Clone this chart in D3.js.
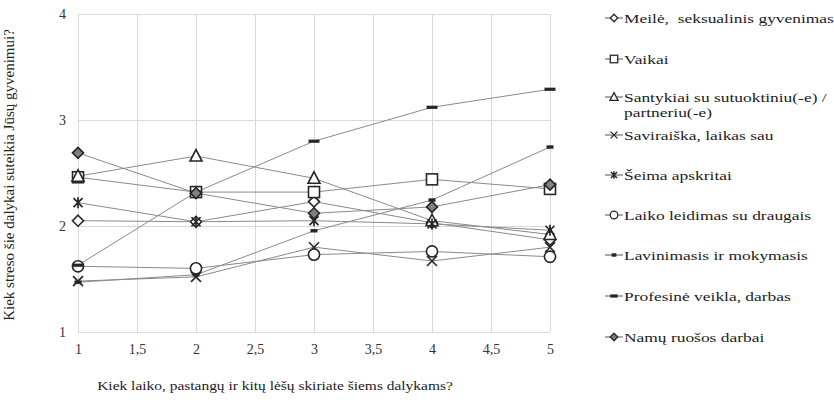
<!DOCTYPE html>
<html><head><meta charset="utf-8">
<script src="https://cdn.jsdelivr.net/npm/d3@7"></script>
<style>body{margin:0;background:#fff}svg{display:block}</style>
</head><body><svg id="c" width="834" height="400"></svg>
<script>
const xValues = [1, 2, 3, 4, 5];
const xTicks = [1, 1.5, 2, 2.5, 3, 3.5, 4, 4.5, 5];
const yTicks = [1, 2, 3, 4];
const seriesNames = [
  "Meilė,  seksualinis gyvenimas",
  "Vaikai",
  "Santykiai su sutuoktiniu(-e) /|partneriu(-e)",
  "Saviraiška, laikas sau",
  "Šeima apskritai",
  "Laiko leidimas su draugais",
  "Lavinimasis ir mokymasis",
  "Profesinė veikla, darbas",
  "Namų ruošos darbai"
];
const meile = [2.05, 2.04, 2.23, 2.03, 1.87];
const vaikai = [2.46, 2.32, 2.32, 2.44, 2.35];
const santykiai = [2.47, 2.66, 2.45, 2.05, 1.92];
const saviraiska = [1.48, 1.52, 1.80, 1.67, 1.80];
const seima = [2.22, 2.04, 2.05, 2.02, 1.96];
const laiko = [1.62, 1.60, 1.73, 1.76, 1.71];
const lavinimasis = [1.47, 1.54, 1.955, 2.245, 2.745];
const profesine = [1.63, 2.32, 2.80, 3.12, 3.29];
const namu = [2.69, 2.31, 2.12, 2.18, 2.39];
const markers = ["diamond", "square", "triangle", "x", "asterisk", "circle", "smalldash", "dash", "filldiamond"];
const allValues = [meile, vaikai, santykiai, saviraiska, seima, laiko, lavinimasis, profesine, namu];
const yTitle = "Kiek streso šie dalykai suteikia Jūsų gyvenimui?";
const xTitle = "Kiek laiko, pastangų ir kitų lėšų skiriate šiems dalykams?";

const FONT = "'Liberation Serif', 'Times New Roman', serif";
const svg = d3.select("#c");
const x = d3.scaleLinear().domain([1, 5]).range([78, 550]);
const y = d3.scaleLinear().domain([1, 4]).range([332, 14]);

// grid
svg.append("g").selectAll("line").data(xTicks).join("line")
  .attr("x1", d => x(d)).attr("x2", d => x(d)).attr("y1", y(4)).attr("y2", y(1))
  .attr("stroke", "#d9d9d9").attr("stroke-width", 1).attr("shape-rendering", "crispEdges");
svg.append("g").selectAll("line").data(yTicks).join("line")
  .attr("x1", x(1)).attr("x2", x(5)).attr("y1", d => y(d)).attr("y2", d => y(d))
  .attr("stroke", "#d9d9d9").attr("stroke-width", 1).attr("shape-rendering", "crispEdges");

// axes
const xAxis = svg.append("g").attr("transform", `translate(0,${y(1)})`)
  .call(d3.axisBottom(x).tickValues(xTicks).tickSize(0).tickPadding(12).tickFormat(d => String(d).replace(".", ",")));
xAxis.attr("font-family", FONT);
xAxis.select(".domain").remove();
xAxis.selectAll("text").attr("font-size", 14).attr("font-family", FONT).attr("fill", "#333");
const yAxis = svg.append("g").attr("transform", `translate(${x(1)},0)`)
  .call(d3.axisLeft(y).tickValues(yTicks).tickSize(0).tickPadding(12).tickFormat(d3.format("d")));
yAxis.attr("font-family", FONT);
yAxis.select(".domain").remove();
yAxis.selectAll("text").attr("font-size", 14).attr("font-family", FONT).attr("fill", "#333");

svg.append("text").attr("transform", `translate(14,${(y(4) + y(1)) / 2 + 2}) rotate(-90)`)
  .attr("text-anchor", "middle").attr("font-size", 15).attr("font-family", FONT).attr("fill", "#222").text(yTitle);
svg.append("text").attr("transform", "translate(275,390) scale(1.19,1)").attr("text-anchor", "middle").attr("font-size", 13)
  .attr("font-family", FONT).attr("fill", "#222").text(xTitle);

function drawMarker(g, type, s) {
  const st = "#262626";
  const sw = s < 1 ? 1.3 : 1.6;
  if (type === "diamond" || type === "filldiamond") {
    g.append("path").attr("d", `M0,${-5.5*s}L${5.5*s},0L0,${5.5*s}L${-5.5*s},0Z`)
      .attr("fill", type === "filldiamond" ? "#808080" : "#fff").attr("stroke", st).attr("stroke-width", sw);
  } else if (type === "square") {
    g.append("rect").attr("x", -5.5*s).attr("y", -5.5*s).attr("width", 11*s).attr("height", 11*s)
      .attr("fill", "#fff").attr("stroke", st).attr("stroke-width", sw);
  } else if (type === "triangle") {
    g.append("path").attr("d", `M0,${-6.5*s}L${6*s},${5*s}L${-6*s},${5*s}Z`).attr("fill", "#fff").attr("stroke", st).attr("stroke-width", sw);
  } else if (type === "circle") {
    g.append("circle").attr("r", 5.6*s).attr("fill", "#fff").attr("stroke", st).attr("stroke-width", sw);
  } else if (type === "x") {
    g.append("path").attr("d", `M${-5*s},${-5*s}L${5*s},${5*s}M${-5*s},${5*s}L${5*s},${-5*s}`).attr("stroke", st).attr("stroke-width", sw);
  } else if (type === "asterisk") {
    g.append("path").attr("d", `M${-4.5*s},${-4.5*s}L${4.5*s},${4.5*s}M${-4.5*s},${4.5*s}L${4.5*s},${-4.5*s}M0,${-5.5*s}L0,${5.5*s}`).attr("stroke", st).attr("stroke-width", sw + 0.1);
  } else if (type === "smalldash") {
    g.append("rect").attr("x", -3.5*s).attr("y", -1.7).attr("width", 7*s).attr("height", 3.4).attr("fill", st);
  } else if (type === "dash") {
    g.append("rect").attr("x", -5.5*s).attr("y", -1.6).attr("width", 11*s).attr("height", 3.2).attr("fill", st);
  }
}

const line = d3.line().x((d, i) => x(xValues[i])).y(d => y(d));
allValues.forEach((vals) => {
  svg.append("path").datum(vals).attr("d", line).attr("fill", "none").attr("stroke", "#8a8a8a").attr("stroke-width", 1);
});
allValues.forEach((vals, si) => {
  vals.forEach((v, i) => {
    const g = svg.append("g").attr("transform", `translate(${x(xValues[i])},${y(v)})`);
    drawMarker(g, markers[si], 1);
  });
});

// legend
const legendY = [18, 59, 97, 135, 175, 215, 255, 296, 337];
seriesNames.forEach((name, i) => {
  const ly = legendY[i];
  const g = svg.append("g");
  g.append("line").attr("x1", 605).attr("x2", 623).attr("y1", ly).attr("y2", ly).attr("stroke", "#555").attr("stroke-width", 1);
  const mg = g.append("g").attr("transform", `translate(614,${ly})`);
  drawMarker(mg, markers[i], 0.68);
  const parts = name.split("|");
  parts.forEach((p, k) => {
    g.append("text").attr("transform", `translate(624,${ly + 4.5 + k * 15}) scale(1.29,1)`).attr("font-size", 13.5)
      .attr("xml:space", "preserve").style("white-space", "pre")
      .attr("font-family", FONT).attr("fill", "#222").text(p);
  });
});
</script></body></html>
